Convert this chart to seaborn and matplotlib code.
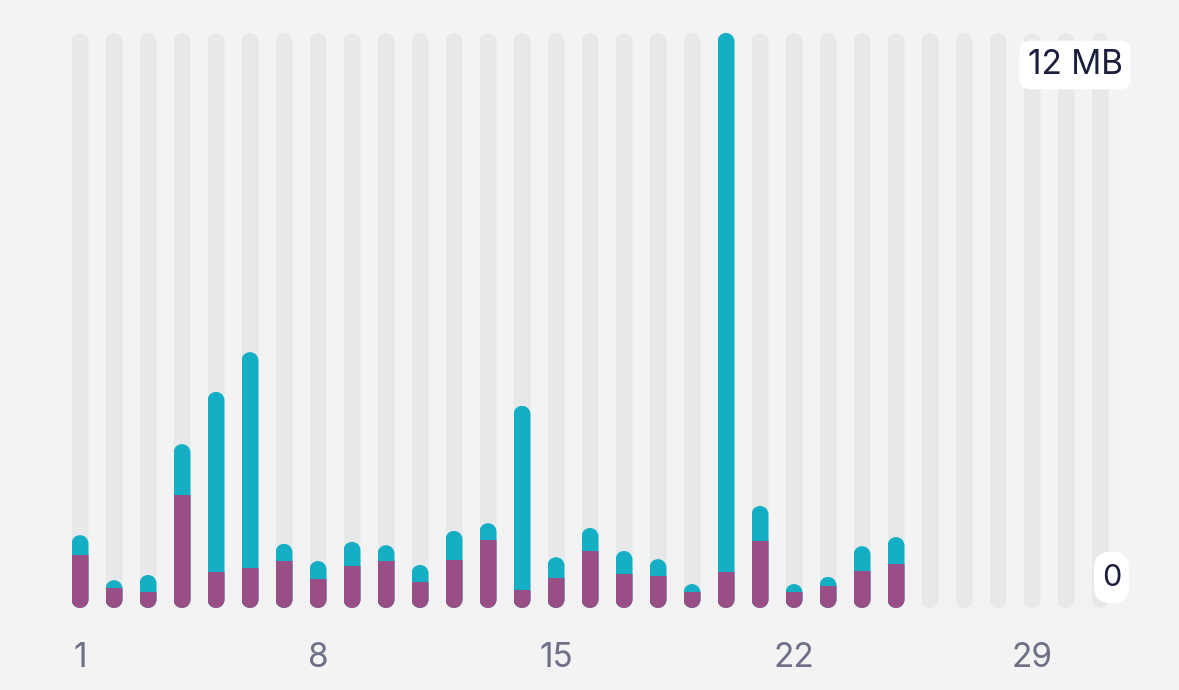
import numpy as np
import pandas as pd
import seaborn as sns
import matplotlib
matplotlib.use("Agg")
import matplotlib.pyplot as plt
from matplotlib.patches import PathPatch, FancyBboxPatch
from matplotlib.path import Path
from matplotlib.transforms import IdentityTransform

# ---- data (MB per day) ----
day_labels = [str(d) for d in range(1, 32)]
data_days = [str(d) for d in range(1, 26)]
purple_mb = [1.11, 0.42, 0.33, 2.36, 0.75, 0.83, 0.98, 0.61, 0.88, 0.98,
             0.54, 1.00, 1.42, 0.38, 0.63, 1.19, 0.71, 0.67, 0.33, 0.75,
             1.40, 0.33, 0.46, 0.77, 0.92]
teal_mb = [0.41, 0.16, 0.36, 1.06, 3.76, 4.51, 0.36, 0.37, 0.50, 0.33,
           0.36, 0.61, 0.35, 3.84, 0.43, 0.48, 0.48, 0.35, 0.17, 11.25,
           0.73, 0.17, 0.19, 0.52, 0.56]
max_mb = 12.0
xtick_labels = ["1", "8", "15", "22", "29"]
top_label = "12 MB"
bottom_label = "0"

BG = "#F3F3F4"
GRAY = "#E7E8EA"
PURPLE = "#994E85"
TEAL = "#15AFC5"
TEXT = "#1B1E3C"
TICK = "#6D7086"

sns.set_theme(style="white")
plt.rcParams["font.family"] = ["Inter", "DejaVu Sans"]

W, H = 1179, 690
fig = plt.figure(figsize=(W / 100, H / 100), dpi=100, facecolor=BG)
ax_bottom_px = 625
ax = fig.add_axes([0, 1 - ax_bottom_px / H, 1, ax_bottom_px / H])
ax.set_facecolor(BG)

df_bg = pd.DataFrame({"day": day_labels, "v": [max_mb] * len(day_labels)})
df = pd.DataFrame({"day": data_days, "purple": purple_mb, "teal": teal_mb})
df["total"] = df["purple"] + df["teal"]

n0 = len(ax.patches)
sns.barplot(data=df_bg, x="day", y="v", order=day_labels, color=GRAY,
            saturation=1, width=0.5, linewidth=0, ax=ax)
bg_patches = ax.patches[n0:]
n1 = len(ax.patches)
sns.barplot(data=df, x="day", y="total", order=day_labels, color=TEAL,
            saturation=1, width=0.5, linewidth=0, ax=ax)
teal_patches = ax.patches[n1:]
n2 = len(ax.patches)
sns.barplot(data=df, x="day", y="purple", order=day_labels, color=PURPLE,
            saturation=1, width=0.5, linewidth=0, ax=ax)
purple_patches = ax.patches[n2:]

# limits: bar i centre at 80 + 34*i px, value 0 at y=608 px, max at y=33 px
px_per_x = 34.0
ax.set_xlim(-80 / px_per_x, (W - 80) / px_per_x)
px_per_mb = 575.0 / max_mb
ax.set_ylim(-(ax_bottom_px - 608) / px_per_mb, 608 / px_per_mb)

# pill-shaped clip paths (semicircular ends) in data coordinates
p0 = ax.transData.transform((0, 0))
p1 = ax.transData.transform((1, 1))
aspect = (p1[0] - p0[0]) / (p1[1] - p0[1])


def pill(x, w, h):
    rx = w / 2.0
    ry = min(rx * aspect, h / 2.0)
    cx = x + rx
    top = Path.arc(0, 180)
    bot = Path.arc(180, 360)
    tv = np.column_stack([cx + rx * top.vertices[:, 0], h - ry + ry * top.vertices[:, 1]])
    bv = np.column_stack([cx + rx * bot.vertices[:, 0], ry + ry * bot.vertices[:, 1]])
    bc = bot.codes.copy()
    bc[0] = Path.LINETO
    verts = np.vstack([tv, bv, tv[:1]])
    codes = np.concatenate([top.codes, bc, [Path.CLOSEPOLY]])
    return PathPatch(Path(verts, codes), transform=ax.transData)


for r in bg_patches:
    r.set_clip_path(pill(r.get_x(), r.get_width(), r.get_height()))
for rt, rp in zip(teal_patches, purple_patches):
    rt.set_clip_path(pill(rt.get_x(), rt.get_width(), rt.get_height()))
    rp.set_clip_path(pill(rt.get_x(), rt.get_width(), rt.get_height()))

ax.set_xticks([day_labels.index(t) for t in xtick_labels])
ax.set_xticklabels(xtick_labels)
ax.tick_params(axis="x", length=0, pad=12, labelsize=24, labelcolor=TICK)
ax.set_yticks([])
ax.set_xlabel("")
ax.set_ylabel("")
for s in ax.spines.values():
    s.set_visible(False)

fig.text(1075 / W, 1 - 65 / H, top_label, ha="center", va="center",
         fontsize=24, color=TEXT,
         bbox=dict(boxstyle="round,pad=0.25,rounding_size=0.35", fc="white", ec="none"))

# white rounded badge behind the "0" label (pixel coordinates)
badge = FancyBboxPatch((1094, H - 603), 35, 51,
                       boxstyle="round,pad=0,rounding_size=16",
                       fc="white", ec="none", transform=IdentityTransform())
fig.patches.append(badge)
fig.text(1111.5 / W, 1 - 578 / H, bottom_label, ha="center", va="center",
         fontsize=22, color=TEXT)

fig.savefig("out.png", dpi=100, facecolor=BG)
